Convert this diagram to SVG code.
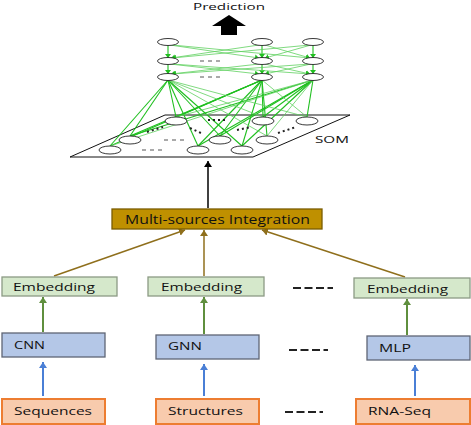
<svg xmlns="http://www.w3.org/2000/svg" width="471" height="425" viewBox="0 0 471 425">
<style>
text{font-family:"Open Sans","DejaVu Sans",sans-serif;fill:#111}
.lbl{font-size:10.8px}
.emb{fill:#d5e8cb;stroke:#8c9a84;stroke-width:1.3}
.nn{fill:#b4c7e7;stroke:#5f6675;stroke-width:1.3}
.src{fill:#f8cbad;stroke:#ed7d31;stroke-width:2}
.node{fill:#fff;stroke:#222;stroke-width:0.9}
.g{stroke:#1fbf1f;stroke-width:1.1;fill:none}
.gl{stroke:#5fd05f;stroke-width:0.8;fill:none}
.blue{stroke:#4a7fd6;stroke-width:2}
.grn{stroke:#5f8f3e;stroke-width:2}
.brn{stroke:#8f6f1c;stroke-width:1.5}
.dash{stroke:#222;stroke-width:2;stroke-dasharray:8 3.5}
.dots{stroke:#555;stroke-width:1;stroke-dasharray:4 4}
.sdots{stroke:#222;stroke-width:2;stroke-dasharray:2 3}
</style>
<defs>
<marker id="aBlue" markerUnits="userSpaceOnUse" markerWidth="8" markerHeight="8" refX="6" refY="4" orient="auto"><path d="M0,0 L6,4 L0,8 z" fill="#4a7fd6"/></marker>
<marker id="aGrn" markerUnits="userSpaceOnUse" markerWidth="8" markerHeight="8" refX="6" refY="4" orient="auto"><path d="M0,0 L6,4 L0,8 z" fill="#5f8f3e"/></marker>
<marker id="aBrn" markerUnits="userSpaceOnUse" markerWidth="8" markerHeight="8" refX="6" refY="4" orient="auto"><path d="M0,0 L6,4 L0,8 z" fill="#8f6f1c"/></marker>
<marker id="aBlk" markerUnits="userSpaceOnUse" markerWidth="8" markerHeight="8" refX="6" refY="4" orient="auto"><path d="M0,0 L6,4 L0,8 z" fill="#000"/></marker>
<marker id="aG" markerUnits="userSpaceOnUse" markerWidth="6" markerHeight="6" refX="4" refY="3" orient="auto"><path d="M0,0 L4,3 L0,6 z" fill="#1fbf1f"/></marker>
</defs>
<rect width="471" height="425" fill="#fff"/>

<g id="prediction">
<text x="193" y="10" font-size="9.8" textLength="72" lengthAdjust="spacingAndGlyphs">Prediction</text>
<path d="M212,26 L229,15 L246,26 L237,26 L237,35 L221,35 L221,26 z" fill="#000"/>
</g>

<g id="som-plane">
<path d="M165,115 L350,115 L253,157 L70,157 z" fill="#fff" stroke="#111" stroke-width="1"/>
<text x="315" y="142.5" font-size="9.8" textLength="34" lengthAdjust="spacingAndGlyphs">SOM</text>
</g>

<g id="connectors">
<g class="g" marker-end="url(#aG)">
<line x1="168" y1="45" x2="168" y2="58"/>
<line x1="262" y1="45" x2="262" y2="58"/>
<line x1="313" y1="45" x2="313" y2="58"/>
<line x1="168" y1="64" x2="168" y2="74"/>
<line x1="262" y1="64" x2="262" y2="74"/>
<line x1="313" y1="64" x2="313" y2="74"/>
</g>
<g class="gl" marker-end="url(#aG)">
<line x1="170" y1="45" x2="259" y2="58"/>
<line x1="172" y1="45" x2="310" y2="58"/>
<line x1="259" y1="45" x2="171" y2="58"/>
<line x1="265" y1="45" x2="310" y2="58"/>
<line x1="310" y1="45" x2="172" y2="58"/>
<line x1="311" y1="45" x2="265" y2="58"/>
<line x1="170" y1="64" x2="259" y2="74"/>
<line x1="172" y1="64" x2="310" y2="74"/>
<line x1="259" y1="64" x2="171" y2="74"/>
<line x1="265" y1="64" x2="310" y2="74"/>
<line x1="310" y1="64" x2="172" y2="74"/>
<line x1="311" y1="64" x2="265" y2="74"/>
</g>
<g class="g">
<line x1="168" y1="80" x2="110" y2="146"/>
<line x1="168" y1="80" x2="130" y2="136"/>
<line x1="168" y1="80" x2="176" y2="117"/>
<line x1="168" y1="80" x2="198" y2="146"/>
<line x1="168" y1="80" x2="220" y2="136"/>
<line x1="168" y1="80" x2="242" y2="146"/>
<line x1="262" y1="80" x2="110" y2="146"/>
<line x1="262" y1="80" x2="130" y2="136"/>
<line x1="262" y1="80" x2="176" y2="117"/>
<line x1="262" y1="80" x2="198" y2="146"/>
<line x1="262" y1="80" x2="220" y2="136"/>
<line x1="262" y1="80" x2="242" y2="146"/>
<line x1="262" y1="80" x2="263" y2="117"/>
<line x1="262" y1="80" x2="267" y2="136"/>
<line x1="313" y1="80" x2="130" y2="136"/>
<line x1="313" y1="80" x2="198" y2="146"/>
<line x1="313" y1="80" x2="242" y2="146"/>
<line x1="313" y1="80" x2="263" y2="117"/>
<line x1="313" y1="80" x2="307" y2="117"/>
<line x1="313" y1="80" x2="220" y2="136"/>
</g>
<g class="gl">
<line x1="168" y1="80" x2="263" y2="117"/>
<line x1="168" y1="80" x2="267" y2="136"/>
<line x1="168" y1="80" x2="307" y2="117"/>
<line x1="262" y1="80" x2="307" y2="117"/>
<line x1="313" y1="80" x2="110" y2="146"/>
<line x1="313" y1="80" x2="176" y2="117"/>
<line x1="313" y1="80" x2="267" y2="136"/>
</g>
<line x1="208" y1="208" x2="208" y2="161" stroke="#000" stroke-width="1.5" marker-end="url(#aBlk)"/>
<line class="brn" x1="54" y1="276" x2="185" y2="230" marker-end="url(#aBrn)"/>
<line class="brn" x1="204" y1="276" x2="204" y2="230" marker-end="url(#aBrn)"/>
<line class="brn" x1="405" y1="277" x2="262" y2="230" marker-end="url(#aBrn)"/>
<line class="grn" x1="43" y1="332" x2="43" y2="297" marker-end="url(#aGrn)"/>
<line class="grn" x1="204" y1="334" x2="204" y2="297" marker-end="url(#aGrn)"/>
<line class="grn" x1="407" y1="335" x2="407" y2="299" marker-end="url(#aGrn)"/>
<line class="blue" x1="43" y1="396" x2="43" y2="362" marker-end="url(#aBlue)"/>
<line class="blue" x1="204" y1="396" x2="204" y2="364" marker-end="url(#aBlue)"/>
<line class="blue" x1="415" y1="396" x2="415" y2="365" marker-end="url(#aBlue)"/>
</g>

<g id="hidden-nodes">
<ellipse class="node" cx="168" cy="42" rx="10.5" ry="3.5"/>
<ellipse class="node" cx="262" cy="42" rx="10.5" ry="3.5"/>
<ellipse class="node" cx="313" cy="42" rx="10.5" ry="3.5"/>
<ellipse class="node" cx="168" cy="61" rx="10.5" ry="3.5"/>
<ellipse class="node" cx="262" cy="61" rx="10.5" ry="3.5"/>
<ellipse class="node" cx="313" cy="61" rx="10.5" ry="3.5"/>
<ellipse class="node" cx="168" cy="77" rx="10.5" ry="3.5"/>
<ellipse class="node" cx="262" cy="77" rx="10.5" ry="3.5"/>
<ellipse class="node" cx="313" cy="77" rx="10.5" ry="3.5"/>
<line class="dots" x1="200" y1="61" x2="224" y2="61"/>
<line class="dots" x1="200" y1="77" x2="224" y2="77"/>
</g>

<g id="som-nodes">
<ellipse class="node" cx="176" cy="121" rx="11" ry="4"/>
<ellipse class="node" cx="263" cy="121" rx="11" ry="4"/>
<ellipse class="node" cx="307" cy="121" rx="11" ry="4"/>
<ellipse class="node" cx="130" cy="140" rx="11" ry="4"/>
<ellipse class="node" cx="220" cy="140" rx="11" ry="4"/>
<ellipse class="node" cx="267" cy="140" rx="11" ry="4"/>
<ellipse class="node" cx="110" cy="150" rx="11" ry="4"/>
<ellipse class="node" cx="198" cy="150" rx="11" ry="4"/>
<ellipse class="node" cx="242" cy="150" rx="11" ry="4"/>
<line class="dots" x1="142" y1="150" x2="164" y2="150"/>
<line class="dots" x1="164" y1="140" x2="187" y2="140"/>
<line class="sdots" x1="208" y1="120" x2="228" y2="120"/>
<line class="sdots" x1="147" y1="132" x2="163" y2="127"/>
<line class="sdots" x1="190" y1="128" x2="203" y2="134"/>
<line class="sdots" x1="237" y1="130" x2="251" y2="127"/>
<line class="sdots" x1="278" y1="133" x2="296" y2="127"/>
</g>

<g id="integration">
<rect x="112" y="209" width="210" height="20" fill="#bf9000" stroke="#7a5c00" stroke-width="1.3"/>
<text x="125" y="223.5" font-size="11.8" textLength="185" lengthAdjust="spacingAndGlyphs">Multi-sources Integration</text>
</g>

<g id="embedding1"><rect class="emb" x="2" y="277" width="115" height="19"/><text class="lbl" x="13" y="291" textLength="82" lengthAdjust="spacingAndGlyphs">Embedding</text></g>
<g id="embedding2"><rect class="emb" x="148" y="277" width="116" height="19"/><text class="lbl" x="161" y="291" textLength="81" lengthAdjust="spacingAndGlyphs">Embedding</text></g>
<g id="embedding3"><rect class="emb" x="354" y="278" width="116" height="20"/><text class="lbl" x="367" y="292.5" textLength="81" lengthAdjust="spacingAndGlyphs">Embedding</text></g>

<g id="cnn"><rect class="nn" x="2" y="333" width="103" height="24"/><text class="lbl" x="14" y="348.5" textLength="31" lengthAdjust="spacingAndGlyphs">CNN</text></g>
<g id="gnn"><rect class="nn" x="156" y="335" width="103" height="24"/><text class="lbl" x="168" y="350" textLength="34" lengthAdjust="spacingAndGlyphs">GNN</text></g>
<g id="mlp"><rect class="nn" x="367" y="336" width="103" height="24"/><text class="lbl" x="379" y="351.5" textLength="32" lengthAdjust="spacingAndGlyphs">MLP</text></g>

<g id="sequences"><rect class="src" x="2" y="399" width="103" height="25"/><text class="lbl" x="14" y="415" textLength="78" lengthAdjust="spacingAndGlyphs">Sequences</text></g>
<g id="structures"><rect class="src" x="156" y="399" width="103" height="25"/><text class="lbl" x="168" y="415" textLength="75" lengthAdjust="spacingAndGlyphs">Structures</text></g>
<g id="rnaseq"><rect class="src" x="356" y="399" width="114" height="25"/><text class="lbl" x="368" y="415" textLength="63" lengthAdjust="spacingAndGlyphs">RNA-Seq</text></g>

<g id="ellipsis">
<line class="dash" x1="293" y1="288" x2="333" y2="288"/>
<line class="dash" x1="289" y1="350" x2="328" y2="350"/>
<line class="dash" x1="285" y1="412" x2="323" y2="412"/>
</g>
</svg>
